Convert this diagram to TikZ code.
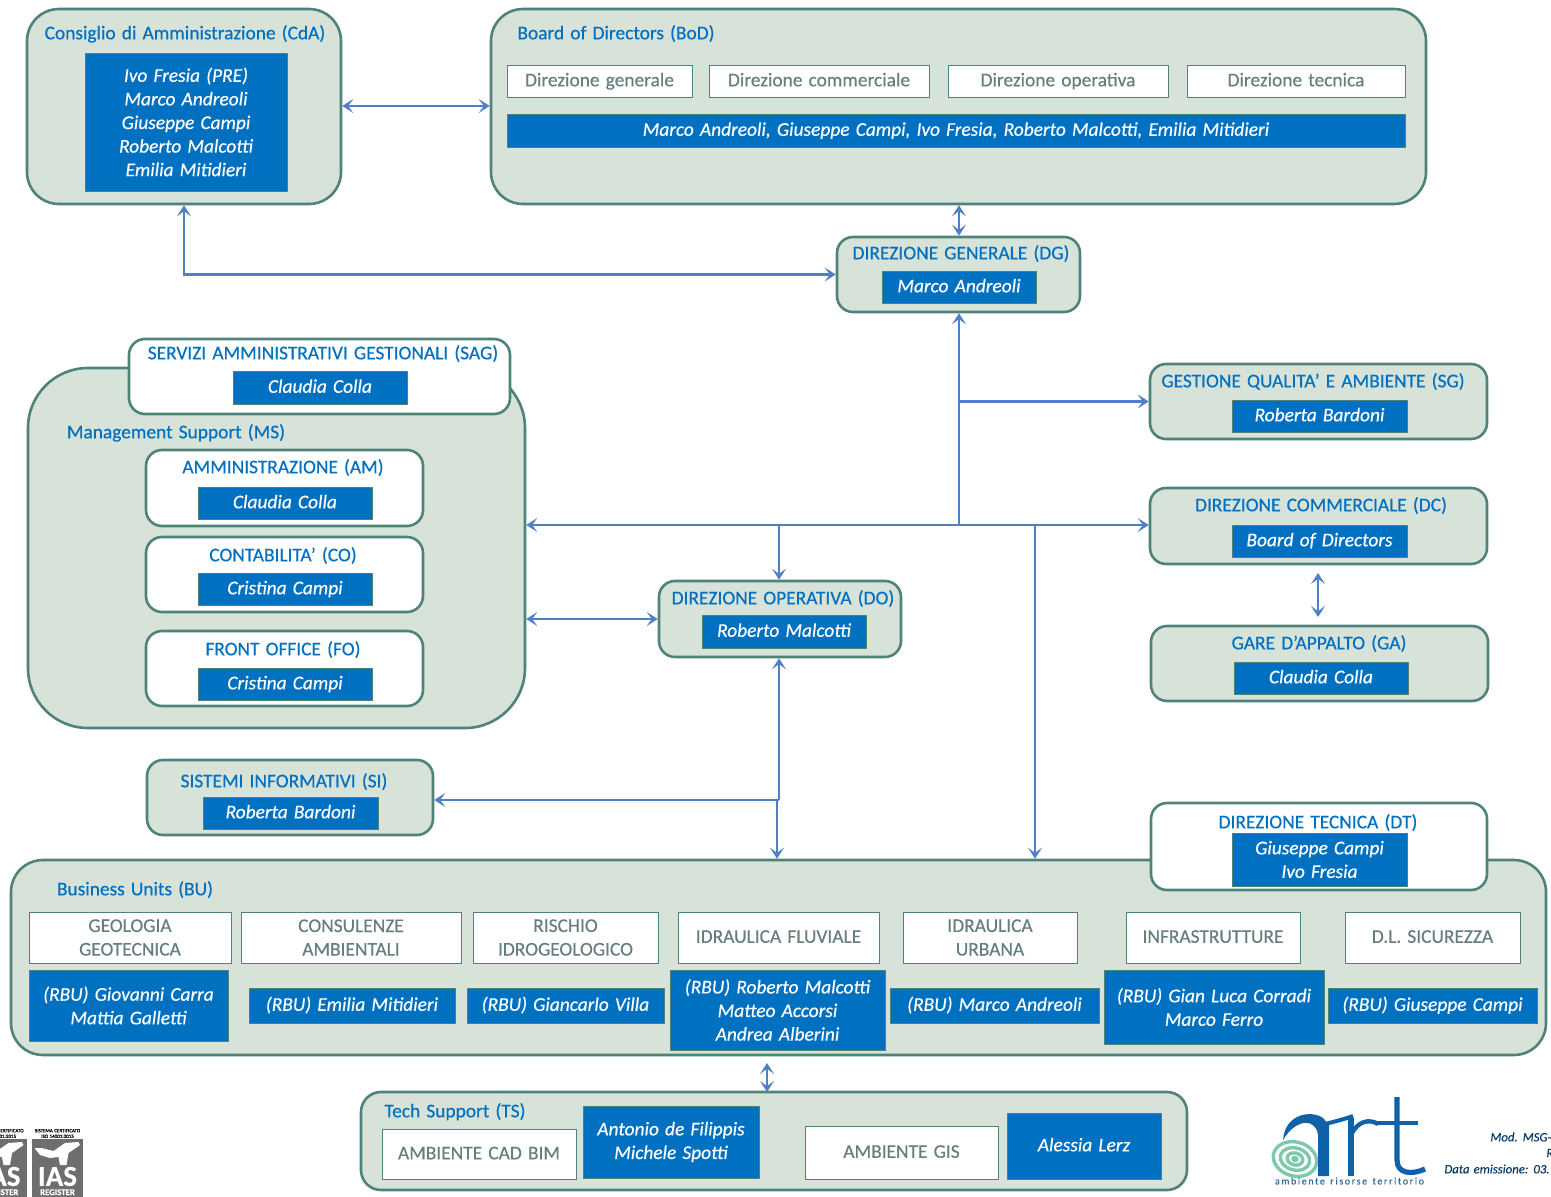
\documentclass[tikz,border=0pt]{standalone}
\usepackage{fontspec}
\setmainfont[WordSpace=1.4,FakeBold=0.35]{Carlito}
\usetikzlibrary{arrows.meta,positioning}
\definecolor{panelfill}{HTML}{D7E2D9}
\definecolor{paneldraw}{HTML}{4F8379}
\definecolor{roleblue}{HTML}{0070C0}
\definecolor{linkblue}{HTML}{4F7FC4}
\definecolor{greytext}{HTML}{667E7E}
\definecolor{logoblue}{HTML}{0F62A8}
\definecolor{logogreen}{HTML}{7DC9AC}
\definecolor{iasgrey}{HTML}{6E6E6E}
\tikzset{
size/.style 2 args={minimum width=#1*0.5pt,minimum height=#2*0.5pt},
oneline/.style={text height=5.3pt,text depth=0pt},
panel/.style={draw=paneldraw,line width=1.3pt,fill=panelfill,rounded corners=8pt,inner sep=0pt},
whitepanel/.style={panel,fill=white},
bigpanel/.style={panel,rounded corners=16pt},
rolebox/.style={draw=paneldraw,line width=0.4pt,fill=roleblue,text=white,align=center,inner sep=0pt,font=\fontsize{9.7}{11.8}\selectfont\itshape},
roleline/.style={rolebox,oneline},
unitbox/.style={draw=paneldraw,line width=0.4pt,fill=white,text=greytext,align=center,inner sep=0pt,font=\fontsize{9.7}{11.8}\selectfont},
unitline/.style={unitbox,oneline},
title/.style={text=roleblue,inner sep=0pt,text height=6.3pt,text depth=0pt,font=\fontsize{9.7}{11.8}\selectfont},
link/.style={draw=linkblue,line width=1.3pt,{Stealth[length=5.5pt,width=7pt,inset=2.6pt]}-{Stealth[length=5.5pt,width=7pt,inset=2.6pt]}},
tolink/.style={draw=linkblue,line width=1.3pt,-{Stealth[length=5.5pt,width=7pt,inset=2.6pt]}},
bare/.style={draw=linkblue,line width=1.3pt}
}
\begin{document}
\begin{tikzpicture}[x=0.5pt,y=-0.5pt]
\useasboundingbox (0,0) rectangle (1551,1197);
% governance
\node[bigpanel,size={314}{195}] (CDA) at (184,106.5) {};
\node[title] (CDAT) at (185,33) {Consiglio di Amministrazione (CdA)};
\node[rolebox,size={202}{138}] (CDAR) at (186,122) {Ivo Fresia (PRE)\\Marco Andreoli\\Giuseppe Campi\\Roberto Malcotti\\Emilia Mitidieri};
\node[bigpanel,size={935}{195}] (BOD) at (958.5,106.5) {};
\node[title] (BODT) at (616,33) {Board of Directors (BoD)};
\node[unitline,size={185}{32}] (BODA) at (599.5,81) {Direzione generale};
\node[unitline,size={220}{32}] (BODB) at (819,81) {Direzione commerciale};
\node[unitline,size={220}{32}] (BODC) at (1058,81) {Direzione operativa};
\node[unitline,size={218}{32}] (BODD) at (1296,81) {Direzione tecnica};
\node[roleline,size={898}{33}] (BODR) at (956,130.5) {Marco Andreoli, Giuseppe Campi, Ivo Fresia, Roberto Malcotti, Emilia Mitidieri};
\node[panel,size={243}{75}] (DG) at (958.5,274.5) {};
\node[title] (DGT) at (961,253) {DIREZIONE GENERALE (DG)};
\node[roleline,size={154}{32}] (DGR) at (959,287) {Marco Andreoli};
% management support
\node[bigpanel,rounded corners=30pt,size={497}{360}] (MS) at (276.5,548) {};
\node[whitepanel,size={381}{75}] (SAG) at (319.5,376.5) {};
\node[title] (SAGT) at (323,353) {SERVIZI AMMINISTRATIVI GESTIONALI (SAG)};
\node[roleline,size={174}{33}] (SAGR) at (320,387.5) {Claudia Colla};
\node[title] (MST) at (176,432) {Management Support (MS)};
\node[whitepanel,size={277}{76}] (AM) at (284.5,488) {};
\node[title] (AMT) at (283,467) {AMMINISTRAZIONE (AM)};
\node[roleline,size={174}{32}] (AMR) at (285,503) {Claudia Colla};
\node[whitepanel,size={277}{75}] (CO) at (284.5,574.5) {};
\node[title] (COT) at (283,555) {CONTABILITA' (CO)};
\node[roleline,size={174}{32}] (COR) at (285,589) {Cristina Campi};
\node[whitepanel,size={277}{75}] (FO) at (284.5,668.5) {};
\node[title] (FOT) at (283,649) {FRONT OFFICE (FO)};
\node[roleline,size={174}{32}] (FOR) at (285,684) {Cristina Campi};
% staff and directions
\node[panel,size={337}{75}] (SG) at (1318.5,401.5) {};
\node[title] (SGT) at (1313,381) {GESTIONE QUALITA' E AMBIENTE (SG)};
\node[roleline,size={175}{32}] (SGR) at (1319.5,416) {Roberta Bardoni};
\node[panel,size={337}{76}] (DC) at (1318.5,526) {};
\node[title] (DCT) at (1321,505) {DIREZIONE COMMERCIALE (DC)};
\node[roleline,size={175}{32}] (DCR) at (1319.5,541) {Board of Directors};
\node[panel,size={337}{75}] (GA) at (1319.5,663.5) {};
\node[title] (GAT) at (1319,643) {GARE D'APPALTO (GA)};
\node[roleline,size={174}{32}] (GAR) at (1321,678) {Claudia Colla};
\node[panel,size={242}{76}] (DO) at (780,619) {};
\node[title] (DOT) at (783,598) {DIREZIONE OPERATIVA (DO)};
\node[roleline,size={164}{33}] (DOR) at (784,631.5) {Roberto Malcotti};
\node[panel,size={286}{75}] (SI) at (290,797.5) {};
\node[title] (SIT) at (284,781) {SISTEMI INFORMATIVI (SI)};
\node[roleline,size={175}{32}] (SIR) at (290.5,813) {Roberta Bardoni};
% business units
\node[bigpanel,size={1535}{195}] (BU) at (778.5,957.5) {};
\node[whitepanel,size={336}{87}] (DT) at (1319,846.5) {};
\node[title] (DTT) at (1318,822) {DIREZIONE TECNICA (DT)};
\node[rolebox,size={175}{53}] (DTR) at (1319.5,859.5) {Giuseppe Campi\\Ivo Fresia};
\node[title] (BUT) at (135,889) {Business Units (BU)};
\node[unitbox,size={202}{51}] (GEO) at (130,937.5) {GEOLOGIA\\GEOTECNICA};
\node[unitbox,size={220}{51}] (CON) at (351,937.5) {CONSULENZE\\AMBIENTALI};
\node[unitbox,size={185}{51}] (RIS) at (565.5,937.5) {RISCHIO\\IDROGEOLOGICO};
\node[unitline,size={201}{51}] (FLU) at (778.5,937.5) {IDRAULICA FLUVIALE};
\node[unitbox,size={174}{51}] (URB) at (990,937.5) {IDRAULICA\\URBANA};
\node[unitline,size={174}{51}] (INF) at (1213,937.5) {INFRASTRUTTURE};
\node[unitline,size={175}{51}] (DLS) at (1432.5,937.5) {D.L. SICUREZZA};
\node[rolebox,size={199}{71}] (GEOR) at (128.5,1005.5) {(RBU) Giovanni Carra\\Mattia Galletti};
\node[roleline,size={206}{35}] (CONR) at (352,1005.5) {(RBU) Emilia Mitidieri};
\node[roleline,size={197}{35}] (RISR) at (565.5,1005.5) {(RBU) Giancarlo Villa};
\node[rolebox,size={215}{80}] (FLUR) at (777.5,1010) {(RBU) Roberto Malcotti\\Matteo Accorsi\\Andrea Alberini};
\node[roleline,size={209}{35}] (URBR) at (994.5,1005.5) {(RBU) Marco Andreoli};
\node[rolebox,size={220}{74}] (INFR) at (1214,1007) {(RBU) Gian Luca Corradi\\Marco Ferro};
\node[roleline,size={209}{35}] (DLSR) at (1432.5,1005.5) {(RBU) Giuseppe Campi};
% tech support
\node[panel,rounded corners=10pt,size={826}{98}] (TS) at (774,1141) {};
\node[title] (TST) at (455,1111) {Tech Support (TS)};
\node[unitline,size={194}{50}] (CAD) at (479,1154) {AMBIENTE CAD BIM};
\node[rolebox,size={176}{72}] (CADR) at (671,1142) {Antonio de Filippis\\Michele Spotti};
\node[unitline,size={193}{53}] (GIS) at (901.5,1152.5) {AMBIENTE GIS};
\node[roleline,size={154}{66}] (GISR) at (1084,1146) {Alessia Lerz};
% junctions
\coordinate (JDG) at (959,525);
\coordinate (JSG) at (959,401.5);
\coordinate (JDO) at (779,525);
\coordinate (JTEC) at (1035,525);
\coordinate (JSI) at (779,800);
\coordinate (JBU) at (777,800);
% connectors
\draw[link] (CDA.east |- 0,106) -- (BOD.west |- 0,106);
\draw[link] (BOD.south -| 959,0) -- (DG.north -| 959,0);
\draw[link] (DG.west) -| (CDA.south);
\draw[tolink] (JDG) -- (DG.south -| 959,0);
\draw[bare] (JDG) -- (JSG);
\draw[tolink] (JSG) -- (SG.west);
\draw[link] (MS.east |- JDG) -- (DC.west |- JDG);
\draw[tolink] (JDO) -- (JDO |- DO.north);
\draw[link] (MS.east |- DO) -- (DO.west);
\draw[tolink] (JSI) -- (JSI |- DO.south);
\draw[tolink] (JSI) -- (SI.east |- JSI);
\draw[tolink] (JBU) -- (JBU |- BU.north);
\draw[tolink] (JTEC) -- (JTEC |- BU.north);
\draw[link] (1318,573) -- (1318,617);
\draw[link] (767,1063) -- (767,1092);
% certification marks
\foreach \cx/\std/\cid in {1/9001/A,57.5/14001/B}{
\fill[iasgrey] (\cx-25.5,1139) rectangle (\cx+25.5,1197);
\fill[white] (\cx-23,1148) -- (\cx-16,1148) -- (\cx-4,1151) -- (\cx+7.5,1143) -- (\cx+21,1142) -- (\cx+22.5,1145) -- (\cx+11,1153) -- (\cx+9,1165) -- (\cx+2.5,1165) -- (\cx+1,1157) -- (\cx-7.5,1158) -- (\cx-17.5,1155) -- cycle;
\node[text=white,align=center,inner sep=0pt,font=\fontsize{14.5}{4.6}\bfseries\selectfont] (IAS\cid) at (\cx,1181) {IAS\\{\fontsize{4.4}{4.6}\selectfont REGISTER}};
\node[text=black,align=center,inner sep=0pt,font=\fontsize{2.5}{2.8}\selectfont] (CERT\cid) at (\cx,1133.5) {SISTEMA CERTIFICATO\\ISO \std:2015};
}
% art logo
\draw[logogreen,line width=1.7pt,rotate around={-15:(1295,1159)}] (1295,1159) ellipse (22 and 17) (1295,1159) ellipse (15 and 11) (1295,1159) ellipse (8 and 6) (1295,1159) ellipse (2 and 1.5);
\fill[logoblue] (1283,1140) .. controls (1285,1113) and (1312,1110) .. (1323,1118) -- (1329,1125) -- (1329,1176) -- (1318,1176) -- (1318,1135) .. controls (1316,1118) and (1296,1118) .. (1283,1140) -- cycle;
\draw[logoblue,line width=2pt] (1322,1125) .. controls (1332,1122) and (1342,1120) .. (1353,1116);
\draw[logoblue,line width=3.4pt] (1351,1176) -- (1351,1118);
\draw[logoblue,line width=2.2pt] (1351,1135) .. controls (1358,1120) and (1370,1119) .. (1378,1124);
\draw[logoblue,line width=2.6pt] (1397,1097) -- (1397,1160) .. controls (1397,1174) and (1412,1175) .. (1425,1169);
\draw[logoblue,line width=1.6pt] (1375,1123) -- (1418,1123);
\node[text=logoblue!70!gray,inner sep=0pt,font=\fontsize{5}{5}\addfontfeature{LetterSpace=16}\selectfont] (ARTT) at (1349.5,1181) {ambiente risorse territorio};
% form data
\node[text=logoblue!60!black,anchor=west,inner sep=0pt,font=\fontsize{6.4}{7}\itshape\selectfont] (MODA) at (1490,1137) {Mod. MSG-};
\node[text=logoblue!60!black,anchor=west,inner sep=0pt,font=\fontsize{6.4}{7}\itshape\selectfont] (MODB) at (1546,1153) {R};
\node[text=logoblue!60!black,anchor=west,inner sep=0pt,font=\fontsize{6.4}{7}\itshape\selectfont] (MODC) at (1444,1169) {Data emissione: 03.};
\end{tikzpicture}
\end{document}
